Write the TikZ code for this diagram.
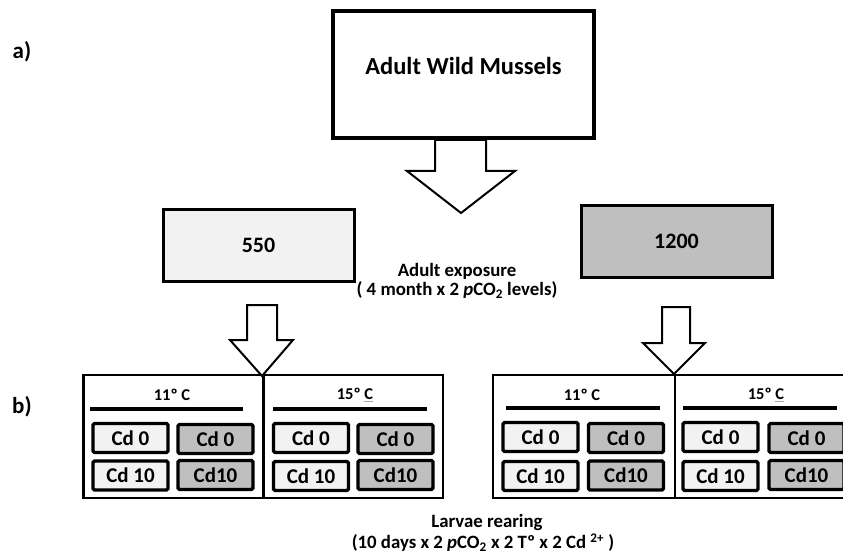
\documentclass[tikz,border=0pt]{standalone}
\usepackage{fontspec}
\setmainfont{Carlito}
\usepackage{xcolor}
\definecolor{lightfill}{HTML}{F2F2F2}
\definecolor{darkfill}{HTML}{BFBFBF}
\begin{document}
\begin{tikzpicture}[x=1pt,y=-1pt,
  every node/.style={font=\bfseries, inner sep=0pt},
  mainbox/.style={draw=black, line width=3.5pt, fill=white, minimum width=261pt, minimum height=127pt},
  maintext/.style={font=\bfseries\fontsize{24.5}{28}\selectfont},
  levelbox/.style={draw=black, line width=3pt, minimum width=191pt, minimum height=72pt, font=\bfseries\fontsize{22}{26}\selectfont},
  grouphalf/.style={draw=black, line width=2.5pt, minimum width=180pt, minimum height=123pt},
  cdbox/.style={draw=black, line width=3.2pt, rounded corners=1.5pt, minimum width=75pt, minimum height=29pt, font=\bfseries\fontsize{21}{24}\selectfont},
  light/.style={fill=lightfill},
  dark/.style={fill=darkfill},
  heading/.style={font=\bfseries\fontsize{16.5}{19}\selectfont},
  headline/.style={line width=4pt},
  caption/.style={font=\bfseries\fontsize{18.8}{22}\selectfont},
  label/.style={font=\bfseries\fontsize{23}{26}\selectfont},
  blockarrow/.style={draw=black, line width=2pt, fill=white, line join=miter}
]
\useasboundingbox (0,0) rectangle (843,556);
\clip (0,0) rectangle (843,556);

% labels
\node[label] (la) at (22,52) {a)};
\node[label] (lb) at (22,407) {b)};

% top box
\node[mainbox] (adult) at (463.5,74.5) {};
\node[maintext] (adulttext) at (463.5,66) {Adult Wild Mussels};

% big arrow
\draw[blockarrow] (435,140) -- (486,140) -- (486,171) -- (515,171) -- (461,213) -- (407,171) -- (435,171) -- cycle;

% level boxes
\node[levelbox, light] (lo) at (258.5,245.5) {550};
\node[levelbox, dark] (hi) at (676.5,241.5) {1200};

\node[caption] (ae1) at (457,271) {Adult exposure};
\node[caption] (ae2) at (457,290) {( 4 month x 2 \textit{p}CO\textsubscript{2} levels)};

% small arrows
\draw[blockarrow] (247,305) -- (277,305) -- (277,340) -- (293,340) -- (262,376) -- (230,340) -- (247,340) -- cycle;
\draw[blockarrow] (662,307) -- (690,307) -- (690,343) -- (705,343) -- (674,374) -- (643,343) -- (662,343) -- cycle;

% left group
\node[grouphalf] (g1a) at (173.5,436.5) {};
\node[grouphalf, minimum width=179pt] (g1b) at (353.5,436.5) {};
\node[heading] (h1a) at (172,395) {11º C};
\node[heading] (h1b) at (355,395) {15º {\color{gray!70}\underline{\color{black}C}}};
\draw[headline] (90,409) -- (243,409);
\draw[headline] (273,409) -- (427,409);
\node[cdbox, light] (c11) at (130.5,438) {Cd 0};
\node[cdbox, dark]  (c12) at (215.5,439) {Cd 0};
\node[cdbox, light] (c13) at (311,438) {Cd 0};
\node[cdbox, dark]  (c14) at (395.5,439) {Cd 0};
\node[cdbox, light] (c21) at (130.5,475.5) {Cd 10};
\node[cdbox, dark]  (c22) at (215.5,475) {Cd10};
\node[cdbox, light] (c23) at (311,476) {Cd 10};
\node[cdbox, dark]  (c24) at (395.5,475) {Cd10};

% right group
\node[grouphalf, minimum width=182pt] (g2a) at (584,436.5) {};
\node[grouphalf, minimum width=178pt] (g2b) at (764,436.5) {};
\node[heading] (h2a) at (582,395) {11º C};
\node[heading] (h2b) at (766,395) {15º {\color{gray!70}\underline{\color{black}C}}};
\draw[headline] (506,408) -- (660,408);
\draw[headline] (683,408) -- (837,408);
\node[cdbox, light] (d11) at (540.5,437) {Cd 0};
\node[cdbox, dark]  (d12) at (626,438) {Cd 0};
\node[cdbox, light] (d13) at (720.5,437) {Cd 0};
\node[cdbox, dark]  (d14) at (806.5,438) {Cd 0};
\node[cdbox, light] (d21) at (540.5,476) {Cd 10};
\node[cdbox, dark]  (d22) at (626,475.5) {Cd10};
\node[cdbox, light] (d23) at (720.5,476) {Cd 10};
\node[cdbox, dark]  (d24) at (806.5,475) {Cd10};

% larvae caption
\node[caption] (lr1) at (487,522) {Larvae rearing};
\node[caption] (lr2) at (483,543) {(10 days x 2 \textit{p}CO\textsubscript{2} x 2 Tº x 2 Cd \textsuperscript{2+} )};
\end{tikzpicture}
\end{document}
